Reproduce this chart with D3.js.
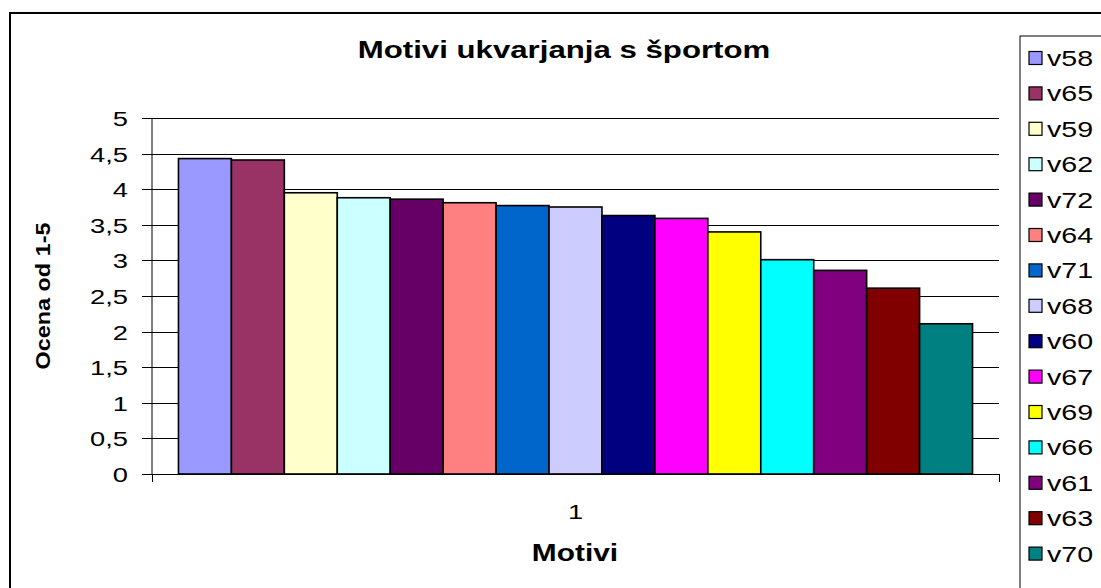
<!DOCTYPE html>
<html>
<head>
<meta charset="utf-8">
<script src="https://cdn.jsdelivr.net/npm/d3@7/dist/d3.min.js"></script>
<style>
  html, body { margin: 0; padding: 0; background: #fff; }
  svg { display: block; }
  text { font-family: Arial, "Liberation Sans", sans-serif; fill: #000; }
</style>
</head>
<body>
<div id="chart"></div>
<script>
// Chart data
const categories = ['1'];
const seriesNames = ['v58', 'v65', 'v59', 'v62', 'v72', 'v64', 'v71', 'v68',
                     'v60', 'v67', 'v69', 'v66', 'v61', 'v63', 'v70'];
const seriesValues = [4.43, 4.41, 3.95, 3.88, 3.86, 3.81, 3.77, 3.75,
                      3.63, 3.59, 3.40, 3.01, 2.86, 2.61, 2.11];
const seriesColors = ['#9999FF', '#993366', '#FFFFCC', '#CCFFFF', '#660066', '#FF8080', '#0066CC', '#CCCCFF',
                      '#000080', '#FF00FF', '#FFFF00', '#00FFFF', '#800080', '#800000', '#008080'];
const yTicks = [0, 0.5, 1, 1.5, 2, 2.5, 3, 3.5, 4, 4.5, 5];
const yTickLabels = ['0', '0,5', '1', '1,5', '2', '2,5', '3', '3,5', '4', '4,5', '5'];

const titleText = 'Motivi ukvarjanja s športom';
const xTitle = 'Motivi';
const yTitle = 'Ocena od 1-5';

const W = 1101, H = 588;
const plot = { left: 152, right: 999, top: 118, bottom: 474 };
const stretch = 1.3; // the picture is wider than tall, text is stretched sideways

const svg = d3.select('#chart').append('svg')
    .attr('width', W)
    .attr('height', H);

// outer chart border
svg.append('rect')
    .attr('x', 10).attr('y', 13)
    .attr('width', 1200).attr('height', 700)
    .attr('fill', 'none')
    .attr('stroke', '#000')
    .attr('stroke-width', 2);

// Scales
const x0 = d3.scaleBand()
    .domain(categories)
    .range([plot.left, plot.right]);

const bw = x0.bandwidth();
const x1 = d3.scaleBand()
    .domain(seriesNames)
    .range([bw / 32, bw - bw / 32]);

const y = d3.scaleLinear()
    .domain([0, 5])
    .range([plot.bottom, plot.top]);

// Gridlines
const grid = svg.append('g')
    .attr('transform', `translate(${plot.left},0)`)
    .call(d3.axisLeft(y).tickValues(yTicks.slice(1)).tickSize(-(plot.right - plot.left)).tickFormat(''));
grid.select('.domain').remove();
grid.selectAll('line').attr('stroke', '#000').attr('shape-rendering', 'crispEdges');

// Bars
const bars = svg.append('g');
categories.forEach(cat => {
    bars.selectAll('.bar')
        .data(seriesNames)
        .enter().append('rect')
        .attr('class', 'bar')
        .attr('x', d => x0(cat) + x1(d))
        .attr('width', x1.bandwidth())
        .attr('y', (d, i) => y(seriesValues[i]))
        .attr('height', (d, i) => y(0) - y(seriesValues[i]))
        .attr('fill', (d, i) => seriesColors[i])
        .attr('stroke', '#000')
        .attr('stroke-width', 1.6);
});

// Y axis
const yAxis = svg.append('g')
    .attr('transform', `translate(${plot.left},0)`)
    .call(d3.axisLeft(y).tickValues(yTicks).tickSize(10).tickPadding(14)
        .tickFormat((d, i) => yTickLabels[i]));
yAxis.select('.domain').attr('stroke', '#000').attr('d', `M0,${plot.top}V${plot.bottom}`);
yAxis.selectAll('line').attr('stroke', '#000').attr('shape-rendering', 'crispEdges');
yAxis.selectAll('text')
    .style('font-size', '21px')
    .attr('dy', '0.36em')
    .each(function () {
        const t = d3.select(this);
        t.attr('x', +t.attr('x') / stretch).attr('transform', `scale(${stretch},1)`);
    });

// X axis (single category)
const xAxis = svg.append('g')
    .attr('transform', `translate(0,${plot.bottom})`)
    .call(d3.axisBottom(x0).tickSize(0).tickPadding(30));
xAxis.select('.domain').attr('stroke', '#000').attr('d', `M${plot.left},8V0H${plot.right}V8`)
    .attr('shape-rendering', 'crispEdges');
xAxis.selectAll('text')
    .style('font-size', '21px')
    .attr('transform', `scale(${stretch},1)`);

// Titles
function stretchedText(x, yPos, str, size, weight) {
    svg.append('text')
        .attr('transform', `translate(${x},${yPos}) scale(${stretch},1)`)
        .attr('text-anchor', 'middle')
        .style('font-size', size + 'px')
        .style('font-weight', weight)
        .text(str);
}
stretchedText(564, 58, titleText, 24, 'bold');
stretchedText(575, 561, xTitle, 23, 'bold');

svg.append('text')
    .attr('transform', 'translate(50,296) rotate(-90)')
    .attr('text-anchor', 'middle')
    .attr('textLength', 147)
    .attr('lengthAdjust', 'spacingAndGlyphs')
    .style('font-size', '21px')
    .style('font-weight', 'bold')
    .text(yTitle);

// Legend
const legendY = d3.scaleBand()
    .domain(seriesNames)
    .range([40.3, 571.3]);

svg.append('rect')
    .attr('x', 1020).attr('y', 36)
    .attr('width', 200).attr('height', 700)
    .attr('fill', '#fff')
    .attr('stroke', '#000')
    .attr('stroke-width', 1);

const legend = svg.append('g').selectAll('.legend-item')
    .data(seriesNames)
    .enter().append('g')
    .attr('class', 'legend-item')
    .attr('transform', d => `translate(1029,${legendY(d) + legendY.bandwidth() / 2})`);

legend.append('rect')
    .attr('x', 0).attr('y', -6.5)
    .attr('width', 13).attr('height', 13)
    .attr('fill', (d, i) => seriesColors[i])
    .attr('stroke', '#000')
    .attr('stroke-width', 1.2);

legend.append('text')
    .attr('transform', `translate(18,0) scale(${stretch},1)`)
    .attr('dy', '0.36em')
    .style('font-size', '22px')
    .text(d => d);
</script>
</body>
</html>
